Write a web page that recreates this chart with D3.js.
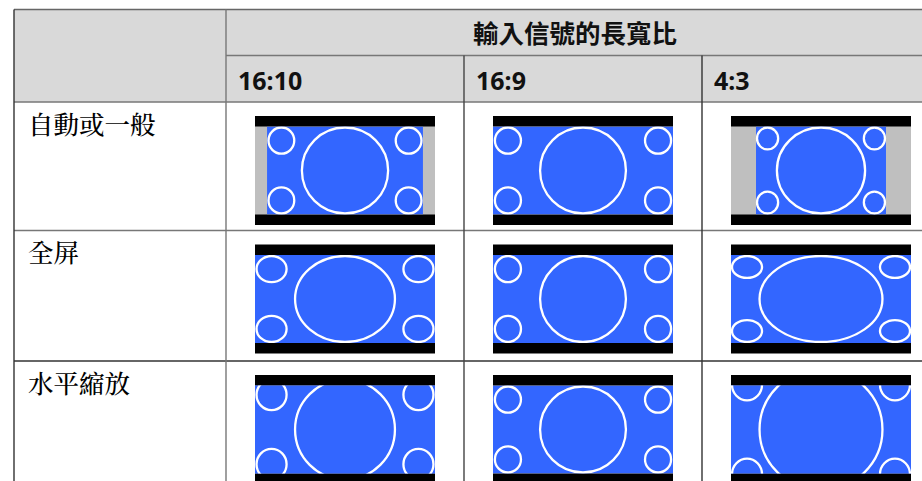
<!DOCTYPE html>
<html>
<head>
<meta charset="utf-8">
<script src="https://cdn.jsdelivr.net/npm/d3@7"></script>
<style>
html,body{margin:0;padding:0;background:#fff;}
svg{display:block;}
</style>
</head>
<body>
<svg id="chart" width="922" height="481"></svg>
<script>
// ---- data ----
const headerTitle = "輸入信號的長寬比";
const inputs = ["16:10", "16:9", "4:3"];           // input signal aspect ratios (columns)
const modes = ["自動或一般", "全屏", "水平縮放"];      // display modes (rows)

// test pattern of each input signal, in normalized source-frame units
const bigRx   = [0.283, 0.244, 0.347];
const bigRy   = [0.5, 0.5, 0.5];
const smallCx = [0.092, 0.083, 0.089];
const smallCy = [0.16, 0.16, 0.136];
const smallRx = [0.089, 0.078, 0.089];
const smallRy = [0.16, 0.16, 0.136];

// extent of the displayed source frame on the panel (fraction of panel), per mode × input
const frameX = [
  [[0.067, 0.933], [0, 1], [0.139, 0.861]],
  [[0, 1], [0, 1], [0, 1]],
  [[0, 1], [0, 1], [0, 1]]
];
const frameY = [
  [[0, 1], [0, 1], [0, 1]],
  [[0, 1], [0, 1], [0, 1]],
  [[-0.08, 1.08], [0, 1], [-0.2, 1.2]]
];

// ---- layout ----
const svg = d3.select("#chart");
const colX = [14, 226, 464, 702, 940];
const rowY = [9.5, 55.5, 102, 230.5, 361, 490];
const headBg = "#d9d9d9";
const blue = "#3366ff", pillar = "#bfbfbf";
const cjkSans = "'Noto Sans CJK TC','Noto Sans CJK SC',sans-serif";
const cjkSerif = "'Noto Serif CJK TC','Noto Sans CJK TC',serif";

// header backgrounds
svg.append("rect").attr("x", colX[0]).attr("y", rowY[0]).attr("width", 922 - colX[0]).attr("height", rowY[2] - rowY[0]).attr("fill", headBg);

// header texts
svg.append("text").attr("x", 473).attr("y", 43)
  .attr("font-family", cjkSans).attr("font-weight", 700).attr("font-size", 25.5)
  .attr("fill", "#111").text(headerTitle);

svg.selectAll("text.col").data(inputs).join("text").attr("class", "col")
  .attr("x", (d, i) => colX[i + 1] + 12).attr("y", 90)
  .attr("font-family", "'Noto Sans','Open Sans',sans-serif").attr("font-weight", 700).attr("font-size", 25)
  .attr("fill", "#111").text(d => d);

svg.selectAll("text.row").data(modes).join("text").attr("class", "row")
  .attr("x", 28).attr("y", (d, i) => rowY[i + 2] + 31.5)
  .attr("font-family", cjkSerif).attr("font-weight", 500).attr("font-size", 25.5)
  .attr("fill", "#000").text(d => d);

// ---- screen diagrams ----
const boxW = 180, barH = 10.5, activeH = 88;
const defs = svg.append("defs");

modes.forEach((m, r) => {
  inputs.forEach((inp, c) => {
    const bx = Math.round((colX[c + 1] + colX[c + 2]) / 2 - boxW / 2);
    const by = rowY[r + 2] + 14;
    const g = svg.append("g");
    // black bars
    g.append("rect").attr("x", bx).attr("y", by).attr("width", boxW).attr("height", barH * 2 + activeH).attr("fill", "#000");
    const ay = by + barH;
    // panel
    const px = d3.scaleLinear().domain([0, 1]).range([bx, bx + boxW]);
    const py = d3.scaleLinear().domain([0, 1]).range([ay, ay + activeH]);
    g.append("rect").attr("x", px(0)).attr("y", py(0)).attr("width", px(1) - px(0)).attr("height", py(1) - py(0)).attr("fill", pillar);
    const clipId = `clip-${r}-${c}`;
    defs.append("clipPath").attr("id", clipId).append("rect")
      .attr("x", px(0)).attr("y", py(0)).attr("width", px(1) - px(0)).attr("height", py(1) - py(0));
    // source frame scales
    const sx = d3.scaleLinear().domain([0, 1]).range([px(frameX[r][c][0]), px(frameX[r][c][1])]);
    const sy = d3.scaleLinear().domain([0, 1]).range([py(frameY[r][c][0]), py(frameY[r][c][1])]);
    const cg = g.append("g").attr("clip-path", `url(#${clipId})`);
    cg.append("rect").attr("x", sx(0)).attr("y", sy(0)).attr("width", sx(1) - sx(0)).attr("height", sy(1) - sy(0)).attr("fill", blue);
    const ellipses = [
      { cx: 0.5, cy: 0.5, rx: bigRx[c], ry: bigRy[c] },
      { cx: smallCx[c], cy: smallCy[c], rx: smallRx[c], ry: smallRy[c] },
      { cx: 1 - smallCx[c], cy: smallCy[c], rx: smallRx[c], ry: smallRy[c] },
      { cx: smallCx[c], cy: 1 - smallCy[c], rx: smallRx[c], ry: smallRy[c] },
      { cx: 1 - smallCx[c], cy: 1 - smallCy[c], rx: smallRx[c], ry: smallRy[c] }
    ];
    cg.selectAll("ellipse").data(ellipses).join("ellipse")
      .attr("cx", d => sx(d.cx)).attr("cy", d => sy(d.cy))
      .attr("rx", d => sx(d.rx) - sx(0) - 1).attr("ry", d => sy(d.ry) - sy(0) - 1)
      .attr("fill", "none").attr("stroke", "#fff").attr("stroke-width", 2.3);
  });
});

// ---- grid lines ----
const hLines = [
  { y: rowY[0], x0: colX[0], x1: 922, c: "#666" },
  { y: rowY[1], x0: colX[1], x1: 922, c: "#777" },
  { y: rowY[2], x0: colX[0], x1: 922, c: "#777" },
  { y: rowY[3], x0: colX[0], x1: 922, c: "#777" },
  { y: rowY[4], x0: colX[0], x1: 922, c: "#333" }
];
svg.selectAll("line.h").data(hLines).join("line").attr("class", "h")
  .attr("x1", d => d.x0).attr("x2", d => d.x1).attr("y1", d => d.y).attr("y2", d => d.y)
  .attr("stroke", d => d.c).attr("stroke-width", 1.6);
const vLines = [
  { x: colX[0], y0: rowY[0], c: "#333" },
  { x: colX[1], y0: rowY[0], c: "#777" },
  { x: colX[2], y0: rowY[1], c: "#444" },
  { x: colX[3], y0: rowY[1], c: "#333" }
];
svg.selectAll("line.v").data(vLines).join("line").attr("class", "v")
  .attr("x1", d => d.x).attr("x2", d => d.x).attr("y1", d => d.y0).attr("y2", 481)
  .attr("stroke", d => d.c).attr("stroke-width", 1.4);
</script>
</body>
</html>
